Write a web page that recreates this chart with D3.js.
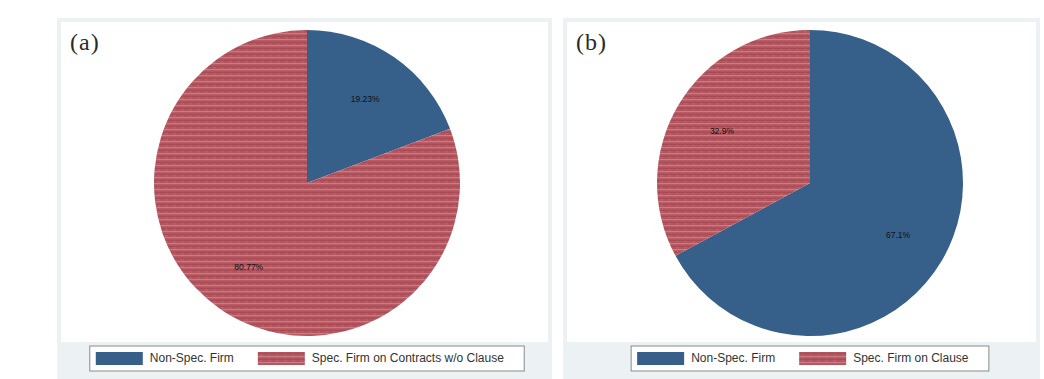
<!DOCTYPE html>
<html>
<head>
<meta charset="utf-8">
<script src="https://cdn.jsdelivr.net/npm/d3@7"></script>
<style>
  html, body { margin: 0; padding: 0; background: #ffffff; }
  svg { display: block; }
</style>
</head>
<body>
<svg id="chart" width="1044" height="379"></svg>
<script>
// Panel tags
const panelTags = ["(a)", "(b)"];

// Panel (a): shares of firms, contracts without the clause
const categoriesA = ["Non-Spec. Firm", "Spec. Firm on Contracts w/o Clause"];
const valuesA = [19.23, 80.77];

// Panel (b): shares of firms, contracts with the clause
const categoriesB = ["Non-Spec. Firm", "Spec. Firm on Clause"];
const valuesB = [67.1, 32.9];

// Number formats for the slice labels
const labelFormats = [".2f", ".1f"];

const svg = d3.select("#chart");
const BLUE = "#365f8a";

// Horizontal streaked texture for the second slice
const defs = svg.append("defs");
const pat = defs.append("pattern")
  .attr("id", "streak")
  .attr("patternUnits", "userSpaceOnUse")
  .attr("width", 8).attr("height", 6);
pat.append("rect").attr("width", 8).attr("height", 6).attr("fill", "#b3555f");
pat.append("rect").attr("y", 0).attr("width", 8).attr("height", 1.2).attr("fill", "#cc7c84");
pat.append("rect").attr("y", 3).attr("width", 8).attr("height", 0.8).attr("fill", "#a64852");
pat.append("rect").attr("x", 2).attr("y", 4.5).attr("width", 3).attr("height", 0.7).attr("fill", "#c26b74");

const fills = [BLUE, "url(#streak)"];

const panels = [
  { tag: panelTags[0], cats: categoriesA, vals: valuesA, fmt: labelFormats[0],
    x0: 57, x1: 552, cx: 307 },
  { tag: panelTags[1], cats: categoriesB, vals: valuesB, fmt: labelFormats[1],
    x0: 563, x1: 1040, cx: 810 }
];

const frameTop = 18, frameBottom = 379, plotBottom = 342;
const cy = 183, R = 153;

const pie = d3.pie().sort(null).value(d => d).startAngle(0).endAngle(2 * Math.PI);
const arc = d3.arc().innerRadius(0).outerRadius(R);
const labelArc = d3.arc().innerRadius(R * 0.67).outerRadius(R * 0.67);

panels.forEach(p => {
  const g = svg.append("g");

  // outer frame and white plot region
  g.append("rect")
    .attr("x", p.x0).attr("y", frameTop)
    .attr("width", p.x1 - p.x0).attr("height", frameBottom - frameTop)
    .attr("fill", "#ecf2f4");
  g.append("rect")
    .attr("x", p.x0 + 4).attr("y", frameTop + 4)
    .attr("width", p.x1 - p.x0 - 8).attr("height", plotBottom - frameTop - 4)
    .attr("fill", "#ffffff");

  // panel tag
  g.append("text")
    .attr("x", p.x0 + 13).attr("y", 50)
    .attr("font-family", "'Liberation Serif', 'DejaVu Serif', serif")
    .attr("font-size", 24)
    .attr("letter-spacing", 1)
    .attr("fill", "#2a2a2a")
    .text(p.tag);

  // pie
  const arcs = pie(p.vals);
  const pg = g.append("g").attr("transform", `translate(${p.cx},${cy})`);
  pg.selectAll("path.slice").data(arcs).join("path")
    .attr("class", "slice")
    .attr("d", arc)
    .attr("fill", (d, i) => fills[i]);

  const fmt = d3.format(p.fmt);
  pg.selectAll("text.val").data(arcs).join("text")
    .attr("class", "val")
    .attr("transform", d => `translate(${labelArc.centroid(d)})`)
    .attr("text-anchor", "middle")
    .attr("dy", "0.35em")
    .attr("font-family", "'Liberation Sans', Arial, sans-serif")
    .attr("font-size", 8.5)
    .attr("fill", "#111")
    .text(d => fmt(d.data) + "%");

  // legend
  const lg = g.append("g");
  const items = lg.selectAll("g.item").data(p.cats).join("g").attr("class", "item");
  items.append("rect")
    .attr("width", 47).attr("height", 13)
    .attr("y", -10)
    .attr("fill", (d, i) => fills[i]);
  items.append("text")
    .attr("x", 54)
    .attr("font-family", "'Liberation Sans', Arial, sans-serif")
    .attr("font-size", 12)
    .attr("fill", "#333")
    .text(d => d);

  let xpos = 0;
  items.each(function () {
    d3.select(this).attr("transform", `translate(${xpos},0)`);
    xpos += this.getBBox().width + 24;
  });
  const innerW = xpos - 24;
  const boxW = innerW + 6 + 20;
  const bx = p.cx - boxW / 2;
  lg.insert("rect", ":first-child")
    .attr("x", -6).attr("y", -16)
    .attr("width", boxW).attr("height", 25)
    .attr("fill", "#ffffff")
    .attr("stroke", "#8a8a8a")
    .attr("stroke-width", 1);
  lg.attr("transform", `translate(${bx + 6},${362})`);
});
</script>
</body>
</html>
